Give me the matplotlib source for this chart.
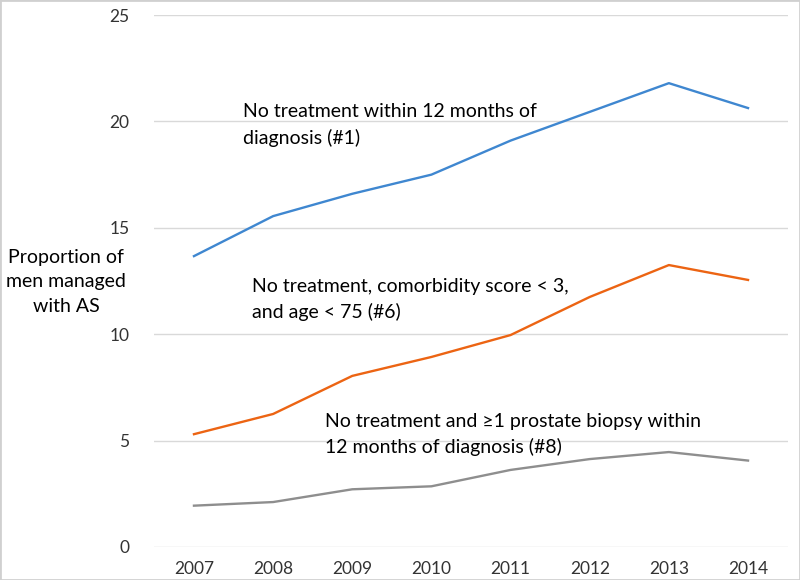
import matplotlib.pyplot as plt
from matplotlib.patches import Rectangle

years = ["2007", "2008", "2009", "2010", "2011", "2012", "2013", "2014"]
no_treatment = [13.67, 15.55, 16.6, 17.5, 19.1, 20.45, 21.8, 20.63]          # #1
no_treatment_fit = [5.3, 6.25, 8.04, 8.93, 9.96, 11.75, 13.25, 12.55]        # #6
no_treatment_biopsy = [1.94, 2.11, 2.71, 2.85, 3.62, 4.13, 4.46, 4.06]       # #8

yticks = [0, 5, 10, 15, 20, 25]

plt.rcParams["font.family"] = ["Lato", "DejaVu Sans"]

fig = plt.figure(figsize=(8, 5.8), dpi=100)
ax = fig.add_axes([0.193, 0.057, 0.7915, 0.917])

x = range(len(years))
ax.plot(x, no_treatment, color="#3f87d0", lw=1.7)
ax.plot(x, no_treatment_fit, color="#ec6413", lw=1.7)
ax.plot(x, no_treatment_biopsy, color="#8e8e8e", lw=1.7)

ax.set_xlim(-0.5, len(years) - 0.5)
ax.set_ylim(0, 25)
ax.set_yticks(yticks)
ax.set_xticks(list(x))
ax.set_xticklabels(years)
ax.grid(axis="y", color="#d9d9d9", lw=1)
ax.set_axisbelow(True)
for s in ax.spines.values():
    s.set_visible(False)
ax.tick_params(length=0, labelsize=12.5, colors="#333333", pad=18)
ax.tick_params(axis="x", pad=10)

# annotation labels, placed in data coords
lbl = dict(fontsize=14, linespacing=1.55, va="center", ha="left")
ax.text(0.62, 19.83, "No treatment within 12 months of\ndiagnosis (#1)", **lbl)
ax.text(0.73, 11.63, "No treatment, comorbidity score < 3,\nand age < 75 (#6)", **lbl)
ax.text(1.655, 5.29, "No treatment and \u22651 prostate biopsy within\n12 months of diagnosis (#8)", **lbl)

fig.text(66 / 800, 1 - 282 / 580, "Proportion of\nmen managed\nwith AS",
         fontsize=14, ha="center", va="center", linespacing=1.5)

fig.patches.append(Rectangle((0, 0), 1, 1, transform=fig.transFigure,
                             fill=False, edgecolor="#d0d0d0", lw=2))

fig.savefig("out.png", dpi=100)
